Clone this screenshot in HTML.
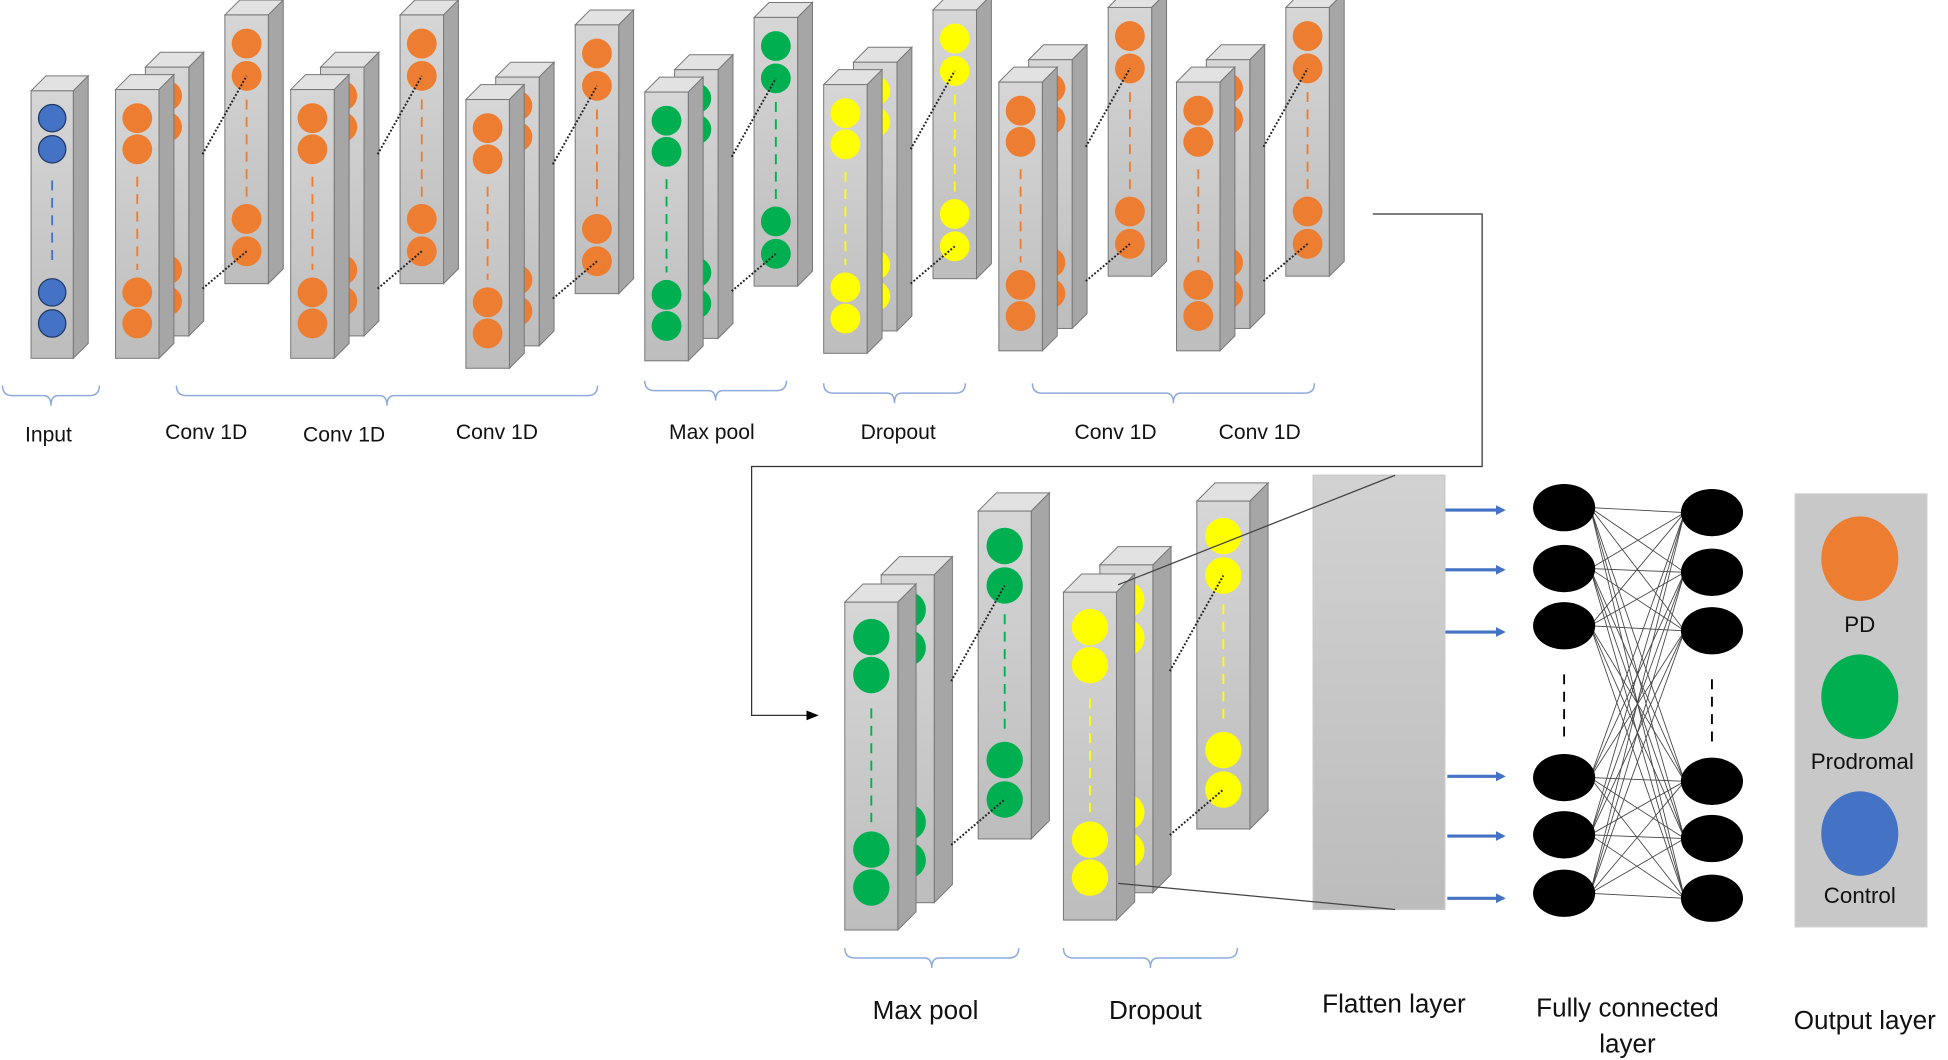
<!DOCTYPE html>
<html><head><meta charset="utf-8"><style>
html,body{margin:0;padding:0;background:#fff;width:1948px;height:1060px;overflow:hidden}
svg{display:block}
text{font-family:"Liberation Sans",sans-serif;fill:#111}
</style></head><body>
<svg id="s" width="1948" height="1060" viewBox="0 0 1568 852" preserveAspectRatio="none" xmlns="http://www.w3.org/2000/svg">
<defs>
<linearGradient id="gf" x1="0" y1="0" x2="0" y2="1"><stop offset="0" stop-color="#d6d6d6"/><stop offset="1" stop-color="#bdbdbd"/></linearGradient>
<linearGradient id="gfl" x1="0" y1="0" x2="0" y2="1"><stop offset="0" stop-color="#d2d2d2"/><stop offset="1" stop-color="#bcbcbc"/></linearGradient>
<marker id="ab" markerWidth="8" markerHeight="8" refX="6" refY="4" orient="auto" markerUnits="userSpaceOnUse"><path d="M0,0 L8,4 L0,8z" fill="#4472c4"/></marker>
<marker id="ak" markerWidth="10" markerHeight="10" refX="9" refY="5" orient="auto" markerUnits="userSpaceOnUse"><path d="M0,1 L10,5 L0,9z" fill="#000"/></marker>
</defs>
<g id="g"></g>
<!-- connectors -->
<polyline points="1105,172 1193,172 1193,375 605,375 605,575 658,575" fill="none" stroke="#333" stroke-width="1" marker-end="url(#ak)"/>
<rect x="1057" y="382" width="106" height="349" fill="url(#gfl)" stroke="#c8c8c8"/>
<line x1="1123" y1="382" x2="900" y2="470" stroke="#444" stroke-width="1"/>
<line x1="900" y1="710" x2="1123" y2="731" stroke="#444" stroke-width="1"/>
<rect x="1445" y="397" width="106" height="348" fill="#c8c8c8" stroke="#d0d0d0"/>
<ellipse cx="1497" cy="449" rx="31" ry="34" fill="#ed7d31"/>
<ellipse cx="1497" cy="560" rx="31" ry="34" fill="#00b050"/>
<ellipse cx="1497" cy="670" rx="31" ry="34" fill="#4472c4"/>
<text x="1497" y="508" font-size="18" text-anchor="middle">PD</text>
<text x="1499" y="618" font-size="18" text-anchor="middle">Prodromal</text>
<text x="1497" y="726" font-size="18" text-anchor="middle">Control</text>
<!-- labels -->
<g font-size="17" text-anchor="middle">
<text x="39" y="355">Input</text>
<text x="166" y="353">Conv 1D</text>
<text x="277" y="355">Conv 1D</text>
<text x="400" y="353">Conv 1D</text>
<text x="573" y="353">Max pool</text>
<text x="723" y="353">Dropout</text>
<text x="898" y="353">Conv 1D</text>
<text x="1014" y="353">Conv 1D</text>
</g>
<g font-size="21" text-anchor="middle">
<text x="745" y="819">Max pool</text>
<text x="930" y="819">Dropout</text>
<text x="1122" y="814">Flatten layer</text>
<text x="1310" y="817">Fully connected</text>
<text x="1310" y="846">layer</text>
<text x="1501" y="827">Output layer</text>
</g>
</svg>
<script>
var NS="http://www.w3.org/2000/svg",G=document.getElementById("g");
function el(t,a){var e=document.createElementNS(NS,t);for(var k in a)e.setAttribute(k,a[k]);G.appendChild(e);return e;}
function bar(x,y,w,h,d){
 el("polygon",{points:[x,y,x+d,y-d,x+w+d,y-d,x+w,y].join(","),fill:"#e2e2e2",stroke:"#777","stroke-width":0.8});
 el("polygon",{points:[x+w,y,x+w+d,y-d,x+w+d,y+h-d,x+w,y+h].join(","),fill:"#a6a6a6",stroke:"#777","stroke-width":0.8});
 el("rect",{x:x,y:y,width:w,height:h,fill:"url(#gf)",stroke:"#777","stroke-width":0.8});
}
function circ(cx,ys,r,c){ys.forEach(function(y){el("circle",{cx:cx,cy:y,r:r,fill:c});});}
function dash(x,y1,y2,c){el("line",{x1:x,y1:y1,x2:x,y2:y2,stroke:c,"stroke-width":1.5,"stroke-dasharray":"8,6"});}
function block(fx,fy,c,S){
 S=S||1;var w=35*S,h=216*S,d=12*S,r=12*S;
 var bx=fx+24*S,by=fy-18*S,tx=fx+88*S,ty=fy-60*S;
 // back bar
 bar(bx,by,w,h,d);
 circ(bx+w/2,[by+23*S,by+48*S,by+163*S,by+188*S],r,c);
 // tall bar
 bar(tx,ty,w,h,d);
 circ(tx+w/2,[ty+23*S,ty+49*S,ty+164*S,ty+190*S],r,c);
 dash(tx+w/2,ty+68*S,ty+148*S,c);
 el("line",{x1:bx+w+d-1,y1:by+70*S,x2:tx+w/2,y2:ty+49*S,stroke:"#222","stroke-width":1.6,"stroke-dasharray":"1.5,1.5"});
 el("line",{x1:bx+w+d-1,y1:by+178*S,x2:tx+w/2,y2:ty+190*S,stroke:"#222","stroke-width":1.6,"stroke-dasharray":"1.5,1.5"});
 // front bar
 bar(fx,fy,w,h,d);
 circ(fx+w/2,[fy+23*S,fy+48*S,fy+163*S,fy+188*S],r,c);
 dash(fx+w/2,fy+70*S,fy+145*S,c);
}
var O="#ed7d31",GR="#00b050",Y="#ffff00",B="#4472c4";
// input
bar(25,73,34,215,12);
el("g",{});
[95,120,235,260].forEach(function(y){el("circle",{cx:42,cy:y,r:11,fill:B,stroke:"#1f3864","stroke-width":1});});
dash(42,145,212,B);
block(93,72,O);block(234,72,O);block(375,80,O);
block(519,74,GR);block(663,68,Y);block(804,66,O);block(947,66,O);
block(680,484,GR,1.22);block(856,476,Y,1.22);
// brackets
function br(x1,x2,y){var m=(x1+x2)/2;el("path",{d:"M"+x1+","+(y-8)+" Q"+x1+","+y+" "+(x1+8)+","+y+" L"+(m-6)+","+y+" Q"+m+","+y+" "+m+","+(y+8)+" Q"+m+","+y+" "+(m+6)+","+y+" L"+(x2-8)+","+y+" Q"+x2+","+y+" "+x2+","+(y-8),fill:"none",stroke:"#8eaadb","stroke-width":1.2});}
br(2,80,318);br(142,481,318);br(519,633,314);br(663,777,316);br(831,1058,316);
br(680,820,770);br(856,996,770);
// FC
var L=[408,457,503,625,671,718],R=[412,460,507,628,674,722];
L.forEach(function(a){R.forEach(function(b){el("line",{x1:1280,y1:a,x2:1356,y2:b,stroke:"#444","stroke-width":0.7});});});
L.forEach(function(y,i){el("ellipse",{cx:1259,cy:y,rx:25,ry:19,fill:"#000"});
 el("line",{x1:1163+(i>2?2:0),y1:[410,458,508,624,672,722][i],x2:1210,y2:[410,458,508,624,672,722][i],stroke:B,"stroke-width":2.5,"marker-end":"url(#ab)"});});
R.forEach(function(y){el("ellipse",{cx:1378,cy:y,rx:25,ry:19,fill:"#000"});});
dash(1259,542,592,"#000");dash(1378,546,596,"#000");
</script>
</body></html>
